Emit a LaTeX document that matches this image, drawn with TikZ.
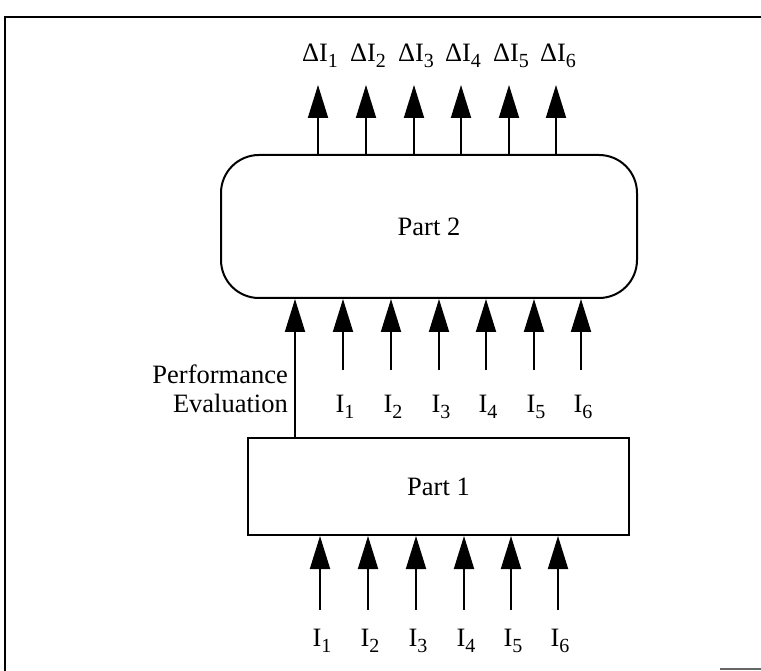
\documentclass[tikz,border=0pt]{standalone}
\usepackage{fontspec}
\setmainfont{Liberation Serif}
\usetikzlibrary{arrows.meta}
\newcommand{\mysub}[1]{\raisebox{-6pt}{\fontsize{20}{20}\selectfont #1}}
\begin{document}
\begin{tikzpicture}[x=1pt,y=-1pt,
  box/.style={draw,line width=2pt,inner sep=0pt,font=\fontsize{26.5}{29}\selectfont},
  lbl/.style={inner sep=0pt,font=\fontsize{26.5}{29}\selectfont},
  arr/.style={line width=1.9pt,-{Triangle[width=20pt,length=33pt]}},
  frame/.style={line width=1.9pt}]
\useasboundingbox (0,0) rectangle (761,671);
% frame
\draw[frame] (5,671) -- (5,17) -- (761,17);
\draw[line width=1.2pt,black!60] (720,669) -- (761,669);
% boxes
\node[box,rounded corners=38pt,minimum width=416pt,minimum height=143pt] (p2) at (429,226.5) {Part 2};
\node[box,minimum width=381pt,minimum height=97pt] (p1) at (438.5,486.5) {Part 1};
% outputs of Part 2
\foreach \x [count=\i] in {318,366,414,461,509,556}{
  \coordinate (t\i) at (\x,85);
  \node[lbl,anchor=base] (d\i) at (\x+2,62) {ΔI\mysub{\i}};
  \draw[arr] (p2.north -| t\i) -- (t\i);
}
% inputs of Part 2
\foreach \x [count=\i] in {343,391,439,486,534,581}{
  \coordinate (u\i) at (\x,370);
  \node[lbl,anchor=base] (a\i) at (\x+2,412) {I\mysub{\i}};
  \draw[arr] (u\i) -- (p2.south -| u\i);
}
% performance evaluation
\coordinate (pe) at (295,438);
\draw[arr] (p1.north -| pe) -- (p2.south -| pe);
\node[lbl,anchor=east,align=right] (pel) at (288,389) {Performance\\Evaluation};
% inputs of Part 1
\foreach \x [count=\i] in {320,368,416,464,511,558}{
  \coordinate (v\i) at (\x,610);
  \node[lbl,anchor=base] (b\i) at (\x+2,646) {I\mysub{\i}};
  \draw[arr] (v\i) -- (p1.south -| v\i);
}
\end{tikzpicture}
\end{document}
